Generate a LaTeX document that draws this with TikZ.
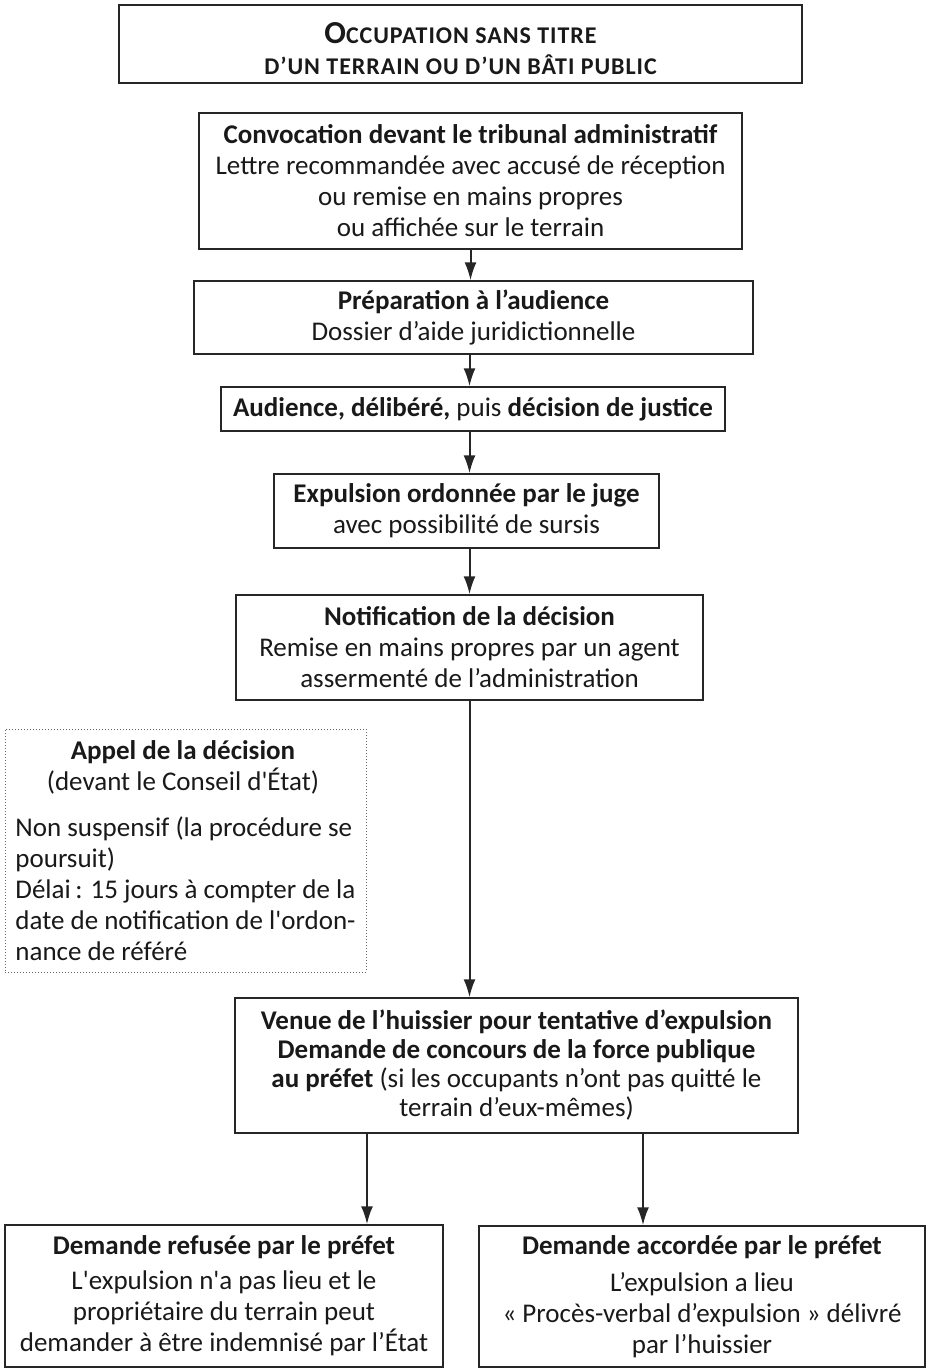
\documentclass[tikz,border=0pt]{standalone}
\usepackage{fontspec}
\setmainfont{Carlito}
\usetikzlibrary{arrows.meta, positioning}

\begin{document}
\begin{tikzpicture}[x=1pt, y=-1pt, >={Latex[length=18pt,width=12pt]},
        etape/.style={draw=black!85, line width=1.4pt, rectangle, align=center, inner sep=0pt,
          font=\fontsize{27}{31}\selectfont, text=black!90},
        fleche/.style={->, line width=2pt, draw=black!85}]
        \useasboundingbox (0,0) rectangle (928,1368);

        \node (titre) [etape, minimum width=683pt, minimum height=78pt] at (460.5,44)
          {\rule{0pt}{31pt}\bfseries\addfontfeature{LetterSpace=4}{\fontsize{32}{31}\selectfont O}\fontsize{24}{31}\selectfont CCUPATION SANS TITRE\\
           \bfseries\addfontfeature{LetterSpace=4}\fontsize{24}{31}\selectfont D’UN TERRAIN OU D’UN BÂTI PUBLIC};

        \node (convoc) [etape, minimum width=543pt, minimum height=136pt] at (470.5,181)
          {\textbf{Convocation devant le tribunal administratif}\\
           Lettre recommandée avec accusé de réception\\
           ou remise en mains propres\\
           ou affichée sur le terrain};
        \node (prep) [etape, minimum width=559pt, minimum height=73pt] at (473.5,317.5)
          {\textbf{Préparation à l’audience}\\ Dossier d’aide juridictionnelle};
        \node (audience) [etape, minimum width=504pt, minimum height=44pt] at (473,409)
          {\textbf{Audience, délibéré,} puis \textbf{décision de justice}};
        \node (expulsion) [etape, minimum width=385pt, minimum height=74pt] at (466.5,511)
          {\textbf{Expulsion ordonnée par le juge}\\ avec possibilité de sursis};
        \node (notif) [etape, minimum width=467pt, minimum height=105pt] at (469.5,647.5)
          {\textbf{Notification de la décision}\\
           Remise en mains propres par un agent\\
           assermenté de l’administration};

        % appel : encadre en pointille, sans fleche
        \node (appel) [etape, draw=black!60, line width=1pt, dotted, align=left,
          minimum width=361pt, minimum height=243pt] at (185.5,850.5)
          {\makebox[335pt]{\textbf{Appel de la décision}}\\
           \makebox[335pt]{(devant le Conseil d\textquotesingle État)}\\[15pt]
           Non suspensif (la procédure se\\
           poursuit)\\
           Délai\,: 15 jours à compter de la\\
           date de notification de l\textquotesingle ordon-\\
           nance de référé};

        \node (venue) [etape, minimum width=563pt, minimum height=135pt,
          font=\fontsize{27}{29}\selectfont] at (516.5,1065.5)
          {\textbf{Venue de l’huissier pour tentative d’expulsion}\\
           \textbf{Demande de concours de la force publique}\\
           \textbf{au préfet} (si les occupants n’ont pas quitté le\\
           terrain d’eux-mêmes)};

        \node (refusee) [etape, minimum width=438pt, minimum height=142pt] at (224,1296)
          {\textbf{Demande refusée par le préfet}\\[4pt]
           L\textquotesingle expulsion n\textquotesingle a pas lieu et le\\
           propriétaire du terrain peut\\
           demander à être indemnisé par l’État};
        \node (accordee) [etape, minimum width=446pt, minimum height=141pt] at (702,1296.5)
          {\textbf{Demande accordée par le préfet}\\[6pt]
           L’expulsion a lieu\\
           «~Procès-verbal d’expulsion~» délivré\\
           par l’huissier};

        \draw[fleche] (convoc.south) -- (convoc.south |- prep.north);
        \draw[fleche] (prep.south -| notif.center) -- (audience.north -| notif.center);
        \draw[fleche] (audience.south -| notif.center) -- (expulsion.north -| notif.center);
        \draw[fleche] (expulsion.south -| notif.center) -- (notif.north);
        \draw[fleche] (notif.south) -- (notif.south |- venue.north);
        \draw[fleche] ([xshift=-149.5pt]venue.south) -- ([xshift=-149.5pt]venue.south |- refusee.north);
        \draw[fleche] ([xshift=126.5pt]venue.south) -- ([xshift=126.5pt]venue.south |- accordee.north);
    \end{tikzpicture}
\end{document}
